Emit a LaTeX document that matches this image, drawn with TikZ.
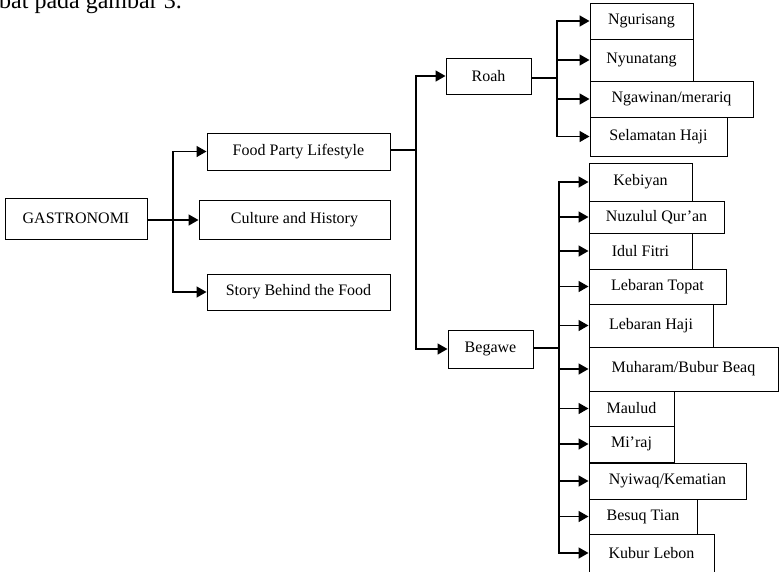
\documentclass[tikz,border=0pt]{standalone}
\usepackage{fontspec}
\setmainfont{Liberation Serif}
\usepackage{tikz}
\usetikzlibrary{arrows.meta, positioning}
\tikzset{
    box/.style={rectangle, draw, line width=1pt, inner sep=0pt, align=center},
    link/.style={line width=1.6pt},
    arrow/.style={line width=1.6pt, -{Triangle[length=10pt, width=11pt]}}
}
\begin{document}
\begin{tikzpicture}[x=1pt, y=-1pt, font=\fontsize{16}{19}\selectfont]
        \useasboundingbox (0,0) rectangle (779,571);
        % Cropped line of the page above the figure
        \node (Caption) [anchor=base west, inner sep=0pt, font=\fontsize{24}{28}\selectfont] at (-1, 8) {bat pada gambar 3.};

        % Level 1: Gastronomi
        \node (Gastro) [box, minimum width=142, minimum height=41] at (76, 218.5) {GASTRONOMI};

        % Level 2: three aspects
        \node (Food) [box, minimum width=183, minimum height=37] at (298.5, 151.5) {Food Party Lifestyle};
        \node (Culture) [box, minimum width=191, minimum height=39] at (294.5, 219.5) {Culture and History};
        \node (Story) [box, minimum width=183, minimum height=36] at (298.5, 292) {Story Behind the Food};

        % Level 3: Roah and Begawe
        \node (Roah) [box, minimum width=85, minimum height=36] at (488.5, 76) {Roah};
        \node (Begawe) [box, minimum width=85, minimum height=38] at (490.5, 349) {Begawe};

        % Level 4: Roah events
        \node (Ngurisang) [box, minimum width=103, minimum height=36] at (641.5, 21) {Ngurisang};
        \node (Nyunatang) [box, minimum width=103, minimum height=42] at (641.5, 60) {Nyunatang};
        \node (Ngawinan) [box, minimum width=163, minimum height=36] at (671.5, 99) {Ngawinan/merariq};
        \node (Selamatan) [box, minimum width=137, minimum height=39] at (658.5, 136.5) {Selamatan Haji};

        % Level 4: Begawe events
        \node (Kebiyan) [box, minimum width=103, minimum height=38] at (640.5, 182) {Kebiyan};
        \node (Nuzulul) [box, minimum width=135, minimum height=32] at (656.5, 217) {Nuzulul Qur’an};
        \node (Idul) [box, minimum width=103, minimum height=36] at (640.5, 251) {Idul Fitri};
        \node (Topat) [box, minimum width=137, minimum height=35] at (657.5, 286.5) {Lebaran Topat};
        \node (LHaji) [box, minimum width=124, minimum height=43] at (651, 325.5) {Lebaran Haji};
        \node (Muharam) [box, minimum width=189, minimum height=44] at (683.5, 369) {Muharam/Bubur Beaq};
        \node (Maulud) [box, minimum width=85, minimum height=35] at (631.5, 408.5) {Maulud};
        \node (Miraj) [box, minimum width=85, minimum height=36] at (631.5, 444) {Mi’raj};
        \node (Nyiwaq) [box, minimum width=157, minimum height=36] at (667.5, 481) {Nyiwaq/Kematian};
        \node (Besuq) [box, minimum width=108, minimum height=35] at (643, 516.5) {Besuq Tian};
        \node (Kubur) [box, minimum width=125, minimum height=38] at (651.5, 553) {Kubur Lebon};

        % Branch points
        \coordinate (T1) at (173, 220);
        \coordinate (T2) at (416, 150);
        \coordinate (T3) at (557, 78);
        \coordinate (T4) at (559, 348);

        % Gastronomi arrows
        \draw[arrow] (Gastro.east |- T1) -- (Culture.west |- T1);
        \draw[arrow] (T1) |- (Food.west);
        \draw[arrow] (T1) |- (Story.west);

        % Food Party Lifestyle arrows
        \draw[link] (Food.east |- T2) -- (T2);
        \draw[arrow] (T2) |- (Roah.west);
        \draw[arrow] (T2) |- (Begawe.west);

        % Roah arrows
        \draw[link] (Roah.east |- T3) -- (T3);
        \draw[arrow] (T3) |- (Ngurisang.west);
        \draw[arrow] (T3) |- (Nyunatang.west);
        \draw[arrow] (T3) |- (Ngawinan.west);
        \draw[arrow] (T3) |- (Selamatan.west);

        % Begawe arrows
        \draw[link] (Begawe.east |- T4) -- (T4);
        \draw[arrow] (T4) |- (Kebiyan.west);
        \draw[arrow] (T4) |- (Nuzulul.west);
        \draw[arrow] (T4) |- (Idul.west);
        \draw[arrow] (T4) |- (Topat.west);
        \draw[arrow] (T4) |- (LHaji.west);
        \draw[arrow] (T4) |- (Muharam.west);
        \draw[arrow] (T4) |- (Maulud.west);
        \draw[arrow] (T4) |- (Miraj.west);
        \draw[arrow] (T4) |- (Nyiwaq.west);
        \draw[arrow] (T4) |- (Besuq.west);
        \draw[arrow] (T4) |- (Kubur.west);
    \end{tikzpicture}
\end{document}
